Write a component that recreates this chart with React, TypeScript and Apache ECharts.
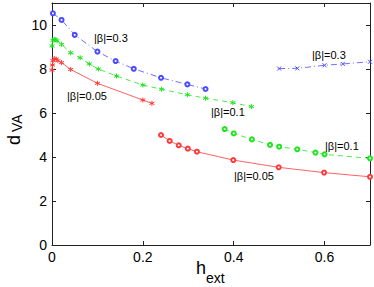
import React, { useEffect, useRef } from "react";
import * as echarts from "echarts";

const xTicks = [0, 0.2, 0.4, 0.6];
const yTicks = [0, 2, 4, 6, 8, 10];

// |β|=0.3, left branch (blue, dash-dot, circles)
const blue1X = [0.002, 0.021, 0.05, 0.1, 0.14, 0.18, 0.24, 0.298, 0.338];
const blue1Y = [10.53, 10.23, 9.55, 8.79, 8.36, 8.01, 7.6, 7.3, 7.09];
// |β|=0.1, left branch (green, dashed, asterisks)
const green1X = [0.0, 0.002, 0.005, 0.008, 0.011, 0.021, 0.041, 0.062, 0.082, 0.102, 0.142, 0.2, 0.241, 0.298, 0.338, 0.398, 0.439];
const green1Y = [9.05, 9.3, 9.35, 9.33, 9.28, 9.12, 8.74, 8.51, 8.23, 8.0, 7.68, 7.27, 7.08, 6.83, 6.67, 6.47, 6.29];
// |β|=0.05, left branch (red, solid, asterisks)
const red1X = [0.0, 0.001, 0.002, 0.005, 0.009, 0.013, 0.021, 0.041, 0.1, 0.2, 0.22];
const red1Y = [7.95, 8.18, 8.38, 8.47, 8.45, 8.38, 8.29, 7.98, 7.35, 6.59, 6.44];
// |β|=0.05, right branch (red, solid, circles)
const red2X = [0.24, 0.259, 0.279, 0.299, 0.319, 0.399, 0.499, 0.599, 0.7];
const red2Y = [5.0, 4.73, 4.53, 4.38, 4.24, 3.86, 3.53, 3.29, 3.1];
// |β|=0.1, right branch (green, dashed, circles)
const green2X = [0.38, 0.4, 0.44, 0.48, 0.5, 0.54, 0.58, 0.6, 0.7];
const green2Y = [5.27, 5.07, 4.8, 4.55, 4.47, 4.35, 4.2, 4.12, 3.94];
// |β|=0.3, right branch (blue, dash-dot, crosses)
const blue2X = [0.5, 0.54, 0.6, 0.64, 0.7];
const blue2Y = [8.02, 8.03, 8.17, 8.23, 8.33];

const BLUE = "#4a4aff";
const GREEN = "#1ee61e";
const RED = "#ff3a3a";
const FONT = "Liberation Sans, Arial, sans-serif";

const ASTER = "path://M5,0L5,10M0.7,2.5L9.3,7.5M0.7,7.5L9.3,2.5";
const CROSS = "path://M0,0L10,10M0,10L10,0";

const zip = (xs: number[], ys: number[]) => xs.map((x, i) => [x, ys[i]]);

function mkSeries(
  xs: number[],
  ys: number[],
  color: string,
  type: any,
  symbol: string,
  size: number,
  stroked: boolean
) {
  return {
    type: "line",
    data: zip(xs, ys),
    symbol,
    symbolSize: size,
    showSymbol: true,
    lineStyle: { color, width: 0.8, type },
    itemStyle: stroked
      ? { color: "rgba(0,0,0,0)", borderColor: color, borderWidth: 1 }
      : { color, borderColor: color, borderWidth: 0.8 },
    emphasis: { disabled: true },
    z: 3,
  };
}

export default function App() {
  const ref = useRef<HTMLDivElement>(null);
  useEffect(() => {
    if (!ref.current) return;
    const chart = echarts.init(ref.current, null, { renderer: "svg" });
    const axisCommon = {
      type: "value",
      splitLine: { show: false },
      axisLine: { show: true, onZero: false, lineStyle: { color: "#222", width: 1 } },
      axisTick: { show: true, inside: true, length: 4, lineStyle: { color: "#222" } },
    };
    const label = (text: string, x: number, y: number) => ({
      type: "text",
      x,
      y,
      style: {
        text,
        font: `11px ${FONT}`,
        fill: "#000",
        verticalAlign: "middle",
      },
      z: 10,
    });
    const txt = (text: string, x: number, y: number, size: number, rotation = 0) => ({
      type: "text",
      x,
      y,
      rotation,
      style: { text, font: `${size}px ${FONT}`, fill: "#000", verticalAlign: "middle", align: "left" },
      z: 10,
    });
    chart.setOption({
      animation: false,
      grid: { left: 52, right: 4, top: 3, bottom: 42, containLabel: false, outerBoundsMode: "none" },
      xAxis: [
        {
          ...axisCommon,
          min: 0,
          max: 0.7,
          interval: 0.2,
          position: "bottom",
          axisLabel: {
            show: true,
            margin: 5,
            color: "#000",
            fontSize: 14,
            fontFamily: FONT,
            showMaxLabel: false,
            formatter: (v: number) => (xTicks.some((t) => Math.abs(t - v) < 1e-9) ? String(+v.toFixed(1)) : ""),
          },
        },
        {
          ...axisCommon,
          min: 0,
          max: 0.7,
          interval: 0.2,
          position: "top",
          axisLabel: { show: false },
        },
      ],
      yAxis: [
        {
          ...axisCommon,
          min: 0,
          max: 11,
          interval: 2,
          position: "left",
          axisLabel: {
            show: true,
            margin: 5,
            color: "#000",
            fontSize: 14,
            fontFamily: FONT,
            showMaxLabel: false,
            formatter: (v: number) => (yTicks.includes(v) ? String(v) : ""),
          },
        },
        {
          ...axisCommon,
          min: 0,
          max: 11,
          interval: 2,
          position: "right",
          axisLabel: { show: false },
        },
      ],
      series: [
        mkSeries(blue1X, blue1Y, BLUE, [6, 3, 1, 3], "emptyCircle", 4, false),
        mkSeries(green1X, green1Y, GREEN, [5, 4], ASTER, 5, true),
        mkSeries(red1X, red1Y, RED, "solid", ASTER, 5, true),
        mkSeries(red2X, red2Y, RED, "solid", "emptyCircle", 4, false),
        mkSeries(green2X, green2Y, GREEN, [5, 4], "emptyCircle", 4, false),
        mkSeries(blue2X, blue2Y, BLUE, [6, 3, 1, 3], CROSS, 4, true),
      ],
      graphic: [
        label("|β|=0.3", 94, 38),
        label("|β|=0.05", 67, 96),
        label("|β|=0.1", 211, 112),
        label("|β|=0.3", 312, 55),
        label("|β|=0.1", 325, 146),
        label("|β|=0.05", 234, 176),
        txt("h", 196, 268, 18),
        txt("ext", 206, 278, 14),
        txt("d", 14, 145, 18, Math.PI / 2),
        txt("VA", 17, 132, 14, Math.PI / 2),
      ],
    });
    return () => chart.dispose();
  }, []);
  return (
    <div
      ref={ref}
      style={{ position: "absolute", left: 0, top: 0, width: 374, height: 287, background: "#fff" }}
    />
  );
}
